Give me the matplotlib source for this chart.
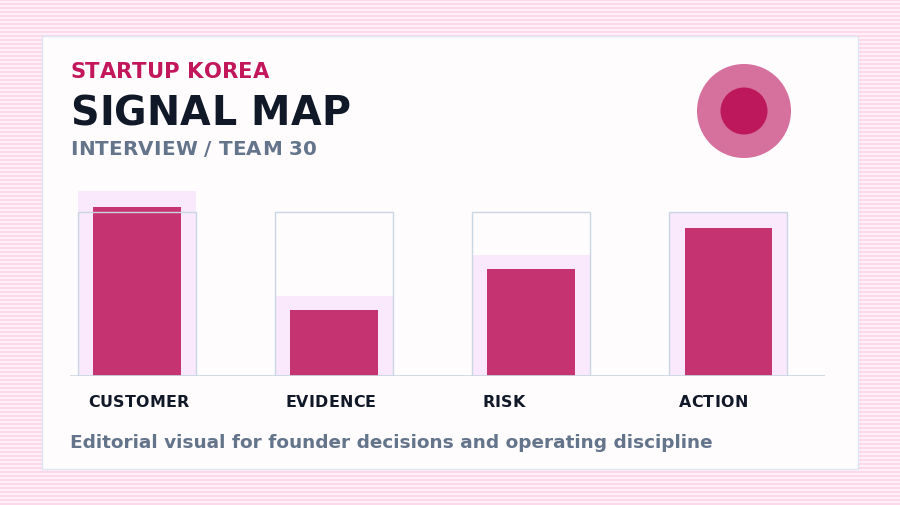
import matplotlib.pyplot as plt
import matplotlib.patches as patches
from matplotlib.colors import ListedColormap
from matplotlib.font_manager import FontProperties
import numpy as np

plt.rcParams["font.family"] = ["DejaVu Sans"]

categories = ["CUSTOMER", "EVIDENCE", "RISK", "ACTION"]
values = [103, 40, 65, 90]       # main bars
soft_values = [113, 49, 74, 100]  # light halo behind bars
target = [100, 100, 100, 100]     # outline boxes

W, H = 900, 506
fig = plt.figure(figsize=(9, 5.06), dpi=100)
renderer = fig.canvas.get_renderer()


def tracked(x_px, y_px, s, size, color, track=0.0):
    # draw text char by char so letter spacing can be widened, y is baseline
    prop = FontProperties(family="DejaVu Sans", weight="bold", size=size)
    x = x_px
    for ch in s:
        fig.text(x / W, 1 - y_px / H, ch, fontproperties=prop, color=color, va="baseline", zorder=5)
        w, h, d = renderer.get_text_width_height_descent(ch, prop, ismath=False)
        x += w + track


# striped background
bg = fig.add_axes([0, 0, 1, 1])
stripes = np.array([[1.0 if (i // 2) % 2 == 0 else 0.0] for i in range(H)])
bg.imshow(stripes, aspect="auto", cmap=ListedColormap(["#fff0f7", "#fcd9ea"]),
          extent=[0, 1, 0, 1], interpolation="nearest")
bg.set_axis_off()

# card
card = patches.Rectangle((42 / W, 1 - 470 / H), 816 / W, 433 / H, transform=fig.transFigure,
                         facecolor="#fffcfe", edgecolor="#dde5f0", linewidth=1, zorder=1)
bg.add_patch(card)

# header
tracked(70, 78, "STARTUP KOREA", 15.2, "#c2185b")
tracked(70, 125, "SIGNAL MAP", 28.5, "#111827", track=0.3)
tracked(70, 155, "INTERVIEW / TEAM 30", 14.3, "#64748b", track=0.2)
fig.text(70 / W, 1 - 448.5 / H, "Editorial visual for founder decisions and operating discipline",
         color="#64748b", fontsize=13.3, fontweight="bold", va="baseline")

# badge
fig.patches.append(patches.Ellipse((744 / W, 1 - 112 / H), 94 / W, 94 / H, transform=fig.transFigure,
                                   facecolor="#d6709c", edgecolor="none", zorder=3))
fig.patches.append(patches.Ellipse((744 / W, 1 - 112 / H), 47 / W, 47 / H, transform=fig.transFigure,
                                   facecolor="#be185d", edgecolor="none", zorder=4))

# chart
ax = fig.add_axes([70 / W, (H - 377) / H, 755 / W, 190 / H])
ax.patch.set_alpha(0)
x = np.arange(len(categories))
box_w = 0.599
ax.bar(x, soft_values, width=box_w, color="#fae8fc", zorder=1)
ax.bar(x, values, width=0.442, color="#c53470", zorder=2)
ax.bar(x, target, width=box_w, fill=False, edgecolor="#c9d6e3", linewidth=1, zorder=3)
ax.axhline(0, color="#c9d6e3", linewidth=1.2, zorder=4)
ax.set_xlim(-0.340, 3.492)
ax.set_ylim(0, 115.85)
ax.set_axis_off()

# category labels, left aligned a little inside each box
for i, c in enumerate(categories):
    left_px = ax.transData.transform((i - box_w / 2, 0))[0]
    tracked(left_px + 10, 407, c, 11.4, "#111827", track=0.2)

fig.savefig("out.png", dpi=100)
